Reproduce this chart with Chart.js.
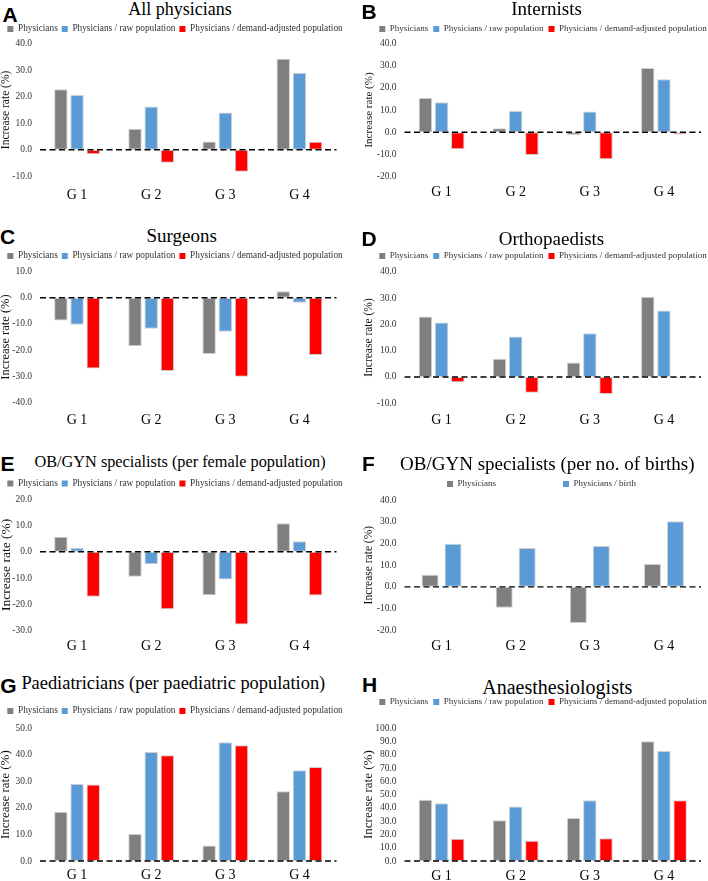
<!DOCTYPE html>
<html><head><meta charset="utf-8">
<script src="https://cdn.jsdelivr.net/npm/chart.js@4.4.1/dist/chart.umd.min.js"></script>
<style>
html,body{margin:0;padding:0;background:#fff;}
body{width:708px;height:881px;overflow:hidden;position:relative;}
canvas{position:absolute;}
.lt{position:absolute;font-family:"Liberation Sans",Arial,sans-serif;font-weight:bold;color:#000;line-height:1;font-size:21px;transform:translate(-50%,-50%);}
.tt{position:absolute;font-family:"Liberation Serif","Times New Roman",serif;color:#000;line-height:1;white-space:nowrap;transform:translate(-50%,-50%);}
</style></head><body>
<script>
// ---------- data ----------
const categories = ['G 1', 'G 2', 'G 3', 'G 4'];
const names3 = ['Physicians', 'Physicians / raw population', 'Physicians / demand-adjusted population'];
const namesF = ['Physicians', 'Physicians / birth'];

const A_phys = [22.8, 7.9, 3.1, 34.3];
const A_raw  = [20.6, 16.3, 14.0, 29.0];
const A_adj  = [-1.7, -4.9, -8.3, 3.0];
const A_ticks = [-10, 0, 10, 20, 30, 40];

const B_phys = [15.4, 1.8, -1.2, 28.9];
const B_raw  = [13.5, 9.6, 9.3, 23.8];
const B_adj  = [-7.6, -10.2, -12.1, -1.0];
const B_ticks = [-20, -10, 0, 10, 20, 30, 40];

const C_phys = [-8.7, -18.5, -21.5, 2.5];
const C_raw  = [-10.3, -11.8, -13.0, -1.9];
const C_adj  = [-27.1, -28.0, -30.2, -21.9];
const C_ticks = [-40, -30, -20, -10, 0, 10];

const D_phys = [23.0, 6.9, 5.5, 30.5];
const D_raw  = [20.7, 15.4, 16.6, 25.3];
const D_adj  = [-2.0, -6.0, -6.5, -0.3];
const D_ticks = [-10, 0, 10, 20, 30, 40];

const E_phys = [5.7, -9.5, -16.5, 10.8];
const E_raw  = [1.5, -4.8, -10.6, 4.0];
const E_adj  = [-17.1, -21.9, -27.6, -16.6];
const E_ticks = [-30, -20, -10, 0, 10, 20];

const F_phys  = [5.6, -9.6, -16.6, 10.5];
const F_birth = [19.8, 17.9, 18.8, 30.2];
const F_ticks = [-20, -10, 0, 10, 20, 30, 40];

const G_phys = [18.6, 10.2, 5.8, 26.3];
const G_raw  = [29.0, 41.1, 44.7, 34.2];
const G_adj  = [28.8, 39.8, 43.6, 35.4];
const G_ticks = [0, 10, 20, 30, 40, 50];

const H_phys = [46.2, 30.7, 32.4, 90.2];
const H_raw  = [43.5, 41.0, 45.7, 82.9];
const H_adj  = [16.8, 15.3, 17.1, 45.7];
const H_ticks = [0, 10, 20, 30, 40, 50, 60, 70, 80, 90, 100];

// ---------- styles / layout ----------
const COLORS = ['#7f7f7f', '#5b9bd5', '#ff0000'];
const SERIF = '"Liberation Serif","Times New Roman",serif';
Chart.defaults.font.family = SERIF;

const panels = [
  {letter:'A', lx:10, ly:13.7, title:'All physicians', ts:18, tx:180, ty:9, side:'L', yts:11.5,
   T:43.5, B:176.3, legY:29, xPad:10.5, ticks:A_ticks, series:[A_phys, A_raw, A_adj], names:names3},
  {letter:'B', lx:369, ly:10.8, title:'Internists', ts:19, tx:546.5, ty:7.5, side:'R', yts:11,
   T:43.3, B:176.7, legY:29, xPad:7.6, ticks:B_ticks, series:[B_phys, B_raw, B_adj], names:names3},
  {letter:'C', lx:7.5, ly:235.8, title:'Surgeons', ts:19, tx:181.7, ty:235, side:'L', yts:12.5,
   T:271.7, B:402.3, legY:256, xPad:9.3, ticks:C_ticks, series:[C_phys, C_raw, C_adj], names:names3},
  {letter:'D', lx:369, ly:237.5, title:'Orthopaedists', ts:19, tx:551.5, ty:237.7, side:'R', yts:11.5,
   T:271.7, B:403.3, legY:256, xPad:8.3, ticks:D_ticks, series:[D_phys, D_raw, D_adj], names:names3},
  {letter:'E', lx:7.5, ly:463, title:'OB/GYN specialists (per female population)', ts:16.3, tx:180, ty:461.7, side:'L', yts:13.5,
   T:499, B:630.7, legY:483.5, xPad:7.6, ticks:E_ticks, series:[E_phys, E_raw, E_adj], names:names3},
  {letter:'F', lx:368.5, ly:463.3, title:'OB/GYN specialists (per no. of births)', ts:19, tx:547.3, ty:462.7, side:'R', yts:11.5,
   T:500, B:630.3, legY:484, xPad:8, ticks:F_ticks, series:[F_phys, F_birth], names:namesF,
   legCX:541.5, legPad:67, catPct:0.62, barPct:0.74},
  {letter:'G', lx:8.3, ly:685, title:'Paediatricians (per paediatric population)', ts:18.4, tx:173.3, ty:683.3, side:'L', yts:13,
   T:728.3, B:861, legY:711, xPad:5.6, ticks:G_ticks, series:[G_phys, G_raw, G_adj], names:names3},
  {letter:'H', lx:369.5, ly:684, title:'Anaesthesiologists', ts:20, tx:557.3, ty:686.5, side:'R', yts:13,
   T:728.3, B:861, legY:702, xPad:7.3, ticks:H_ticks, series:[H_phys, H_raw, H_adj], names:names3}
];

// ---------- plugins ----------
const zeroLine = {
  id: 'zeroLine',
  afterDatasetsDraw(chart) {
    const ctx = chart.ctx, y = chart.scales.y.getPixelForValue(0);
    const {left, right} = chart.chartArea;
    ctx.save();
    ctx.setLineDash([6, 3.5]);
    ctx.lineWidth = 1.4;
    ctx.strokeStyle = '#000';
    ctx.beginPath(); ctx.moveTo(left, y); ctx.lineTo(right, y); ctx.stroke();
    ctx.restore();
  }
};
const legendAdjust = {
  id: 'legendAdjust',
  beforeLayout(chart, args, o) {
    const lg = chart.legend;
    if (lg && !lg._adj) {
      const fit = lg.fit;
      lg.fit = function () { fit.call(this); this.height += (o.gap || 0); };
      lg._adj = true;
    }
  },
  afterLayout(chart, args, o) {
    const lg = chart.legend;
    if (lg && o.center != null) {
      const w = lg.width;
      lg.left = o.center - w / 2; lg.right = o.center + w / 2;
    }
  }
};

// ---------- build ----------
panels.forEach(p => {
  const L = document.createElement('div'); L.className = 'lt'; L.textContent = p.letter;
  L.style.left = p.lx + 'px'; L.style.top = p.ly + 'px'; document.body.appendChild(L);
  const T = document.createElement('div'); T.className = 'tt'; T.textContent = p.title;
  T.style.left = p.tx + 'px'; T.style.top = p.ty + 'px'; T.style.fontSize = p.ts + 'px'; document.body.appendChild(T);

  const isL = p.side === 'L';
  const legFs = isL ? 9.3 : 9.0;
  const cLeft = isL ? -40 : 330, W = isL ? 430 : 420;
  const plotL = isL ? 40 : 404.5, plotR = isL ? 336.5 : 701;
  const legCX = p.legCX != null ? p.legCX : (isL ? 175 : 543);
  const legPad = p.legPad != null ? p.legPad : (isL ? 4 : 5);
  const topExact = p.legY - legPad - legFs / 2;
  const cTop = Math.floor(topExact);
  const padTop = topExact - cTop;
  const gap = p.T - (p.legY + legFs / 2 + 10);
  const H = Math.ceil(p.B + 28 - cTop) + 1;
  const yW = plotL - cLeft;
  const ytX = isL ? 6 : 369;

  const cv = document.createElement('canvas');
  cv.width = W; cv.height = H;
  cv.style.left = cLeft + 'px'; cv.style.top = cTop + 'px';
  cv.style.width = W + 'px'; cv.style.height = H + 'px';
  document.body.appendChild(cv);

  const datasets = p.series.map((d, i) => ({
    label: p.names[i], data: d,
    backgroundColor: COLORS[i], borderColor: '#cfcfcf', borderWidth: 1, borderSkipped: false,
    categoryPercentage: p.catPct || 0.655, barPercentage: p.barPct || 0.83
  }));

  new Chart(cv, {
    type: 'bar',
    data: { labels: categories, datasets },
    options: {
      responsive: false, animation: false, devicePixelRatio: 1,
      layout: { padding: { top: padTop, bottom: (cTop + H) - (p.B + 28), left: 0, right: cLeft + W - plotR } },
      plugins: {
        tooltip: { enabled: false },
        title: { display: false },
        legend: {
          display: true, position: 'top',
          labels: {
            boxWidth: 6, boxHeight: 6, padding: legPad, color: '#333',
            font: { family: SERIF, size: legFs },
            generateLabels(chart) {
              return Chart.defaults.plugins.legend.labels.generateLabels(chart).map(it => {
                it.lineWidth = 0; it.strokeStyle = it.fillStyle; return it;
              });
            }
          }
        },
        legendAdjust: { gap, center: legCX - cLeft }
      },
      scales: {
        x: {
          ticks: { color: '#000', font: { family: SERIF, size: 14 }, padding: p.xPad, autoSkip: false, maxRotation: 0 },
          grid: { display: false, drawTicks: false }, border: { display: false },
          afterFit(s) { s.height = 28; }
        },
        y: {
          min: Math.min(...p.ticks), max: Math.max(...p.ticks),
          ticks: { stepSize: p.ticks[1] - p.ticks[0], autoSkip: false, color: '#333', font: { family: SERIF, size: 9.5 }, padding: 8,
                   callback: v => Number(v).toFixed(1) },
          grid: { display: false, drawTicks: false }, border: { display: false },
          title: { display: true, text: 'Increase rate (%)', color: '#111', font: { family: SERIF, size: p.yts, lineHeight: 1 },
                   padding: { top: ytX - cLeft - p.yts / 2, bottom: 0 } },
          afterFit(s) { s.width = yW; }
        }
      }
    },
    plugins: [zeroLine, legendAdjust]
  });
});
</script>
</body></html>
